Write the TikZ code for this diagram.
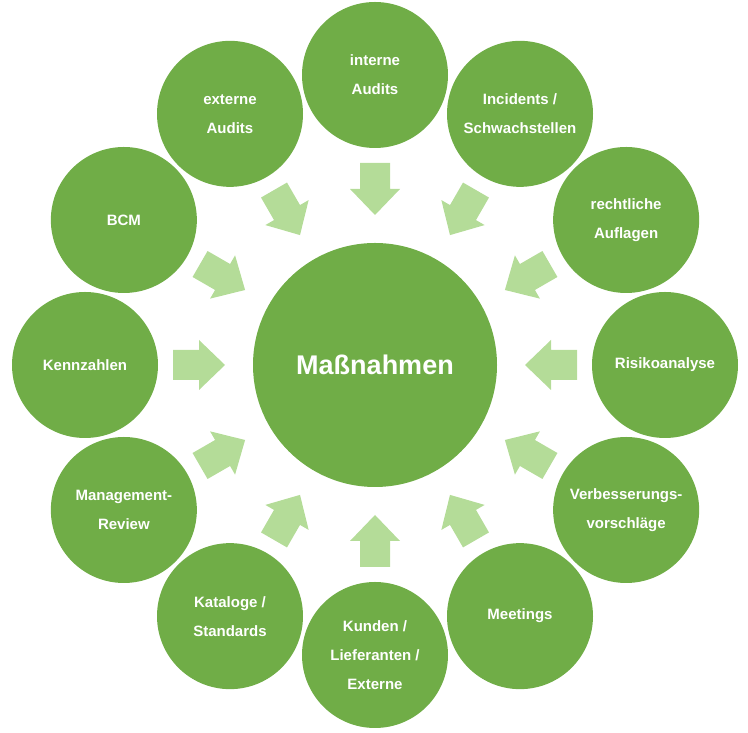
\documentclass[tikz,border=0pt]{standalone}
\usepackage{fontspec}
\setmainfont{Liberation Sans}
\usetikzlibrary{calc}
\definecolor{cgreen}{HTML}{70AD47}
\definecolor{agreen}{HTML}{B4DC98}
\begin{document}
\begin{tikzpicture}[x=1pt,y=1pt,
  outer/.style={circle,fill=cgreen,minimum size=146pt,inner sep=0pt,align=center,text=white,font=\bfseries\fontsize{15}{29}\selectfont},
  inner/.style={circle,fill=cgreen,minimum size=244pt,inner sep=0pt,text=white,font=\bfseries\fontsize{27}{30}\selectfont},
  blockarrow/.style={fill=agreen}]
\useasboundingbox (0,0) rectangle (748,733);
\coordinate (O) at (375,368);
\node[inner] (m) at (O) {Maßnahmen};
\foreach \a/\t/\n in {90/{interne\\Audits}/c1, 60/{Incidents /\\Schwachstellen}/c2, 30/{rechtliche\\Auflagen}/c3, 0/{Risikoanalyse}/c4, -30/{Verbesserungs-\\vorschläge}/c5, -60/{Meetings}/c6, -90/{Kunden /\\Lieferanten /\\Externe}/c7, -120/{Kataloge /\\Standards}/c8, -150/{Management-\\Review}/c9, 180/{Kennzahlen}/c10, 150/{BCM}/c11, 120/{externe\\Audits}/c12}{
  \node[outer] (\n) at ($(O)+(\a:290)$) {\t};
  \begin{scope}[shift={(O)},rotate=\a]
    \fill[blockarrow] (202,-15) -- (176,-15) -- (176,-25) -- (150,0) -- (176,25) -- (176,15) -- (202,15) -- cycle;
  \end{scope}
}
\end{tikzpicture}
\end{document}
